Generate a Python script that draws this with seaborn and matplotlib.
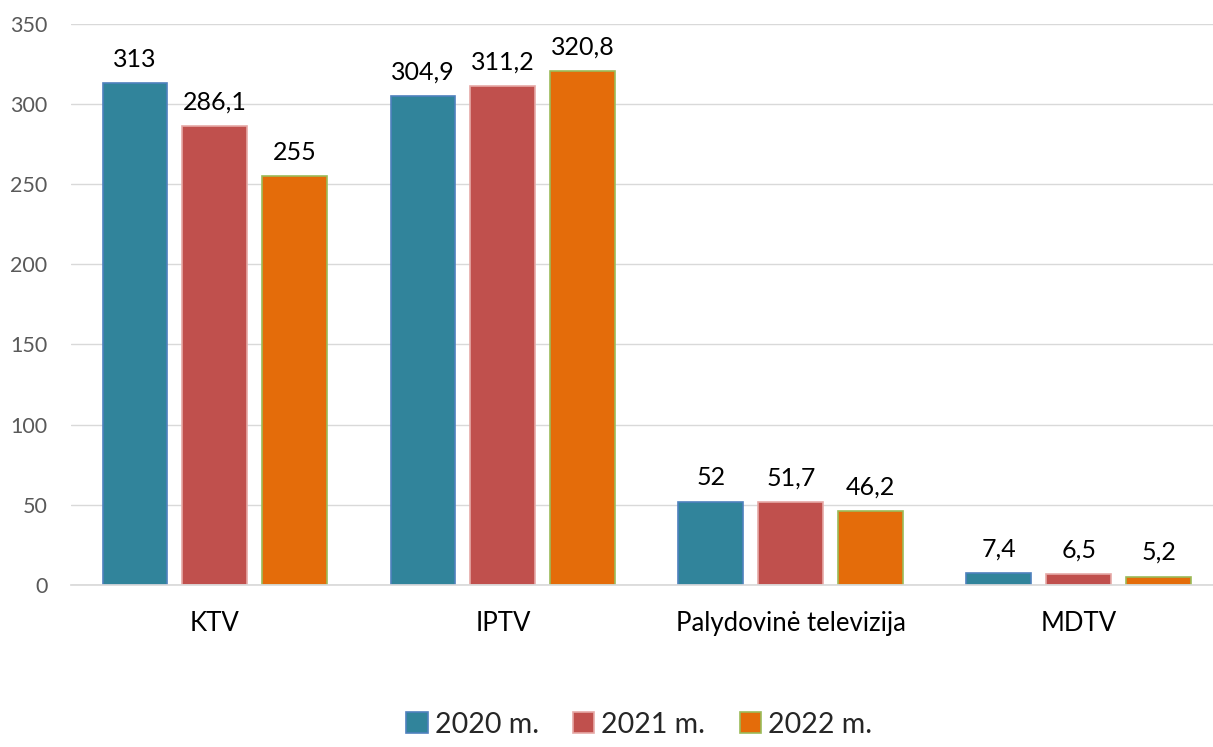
import matplotlib
matplotlib.use("Agg")
import matplotlib.pyplot as plt
from matplotlib.ticker import MultipleLocator
from matplotlib.patches import Patch
import seaborn as sns
import pandas as pd

categories = ["KTV", "IPTV", "Palydovinė televizija", "MDTV"]
years = ["2020 m.", "2021 m.", "2022 m."]
values_2020 = [313, 304.9, 52, 7.4]
values_2021 = [286.1, 311.2, 51.7, 6.5]
values_2022 = [255, 320.8, 46.2, 5.2]

df = pd.DataFrame(
    {
        "Kategorija": categories * 3,
        "Reikšmė": values_2020 + values_2021 + values_2022,
        "Metai": [years[0]] * 4 + [years[1]] * 4 + [years[2]] * 4,
    }
)

sns.set_theme(style="white")
plt.rcParams["font.family"] = ["Lato", "DejaVu Sans"]

fill_colors = {"2020 m.": "#31849B", "2021 m.": "#C0504D", "2022 m.": "#E46C0A"}
edge_colors = {"2020 m.": "#4F81BD", "2021 m.": "#E6A9A7", "2022 m.": "#9BBB59"}

fig = plt.figure(figsize=(12.13, 7.47), dpi=100)
ax = fig.add_axes([0.0585, 0.217, 0.9497, 0.751])

sns.barplot(
    data=df,
    x="Kategorija",
    y="Reikšmė",
    hue="Metai",
    palette=fill_colors,
    saturation=1,
    width=0.833,
    gap=0.1875,
    ax=ax,
    legend=False,
)

for container, year in zip(ax.containers, years):
    for bar in container:
        bar.set_edgecolor(edge_colors[year])
        bar.set_linewidth(1.2)
    labels = [f"{v:g}".replace(".", ",") for v in container.datavalues]
    ax.bar_label(container, labels=labels, padding=9, fontsize=18, color="#000000")

ax.set_ylim(0, 350)
ax.set_xlim(-0.5, 3.5)
ax.yaxis.set_major_locator(MultipleLocator(50))
ax.grid(axis="y", color="#D9D9D9", linewidth=1)
ax.set_axisbelow(True)
for s in ["top", "right", "left"]:
    ax.spines[s].set_visible(False)
ax.spines["bottom"].set_color("#D9D9D9")
ax.set_xlabel("")
ax.set_ylabel("")
ax.tick_params(axis="y", length=0, labelsize=15.5, labelcolor="#595959", pad=17)
ax.tick_params(axis="x", length=0, labelsize=18.5, labelcolor="#000000", pad=19)

handles = [
    Patch(facecolor=fill_colors[y], edgecolor=edge_colors[y], linewidth=1.2, label=y)
    for y in years
]
fig.legend(
    handles=handles,
    loc="lower center",
    bbox_to_anchor=(0.527, -0.022),
    ncol=3,
    frameon=False,
    fontsize=20.5,
    handlelength=0.75,
    handleheight=0.75,
    handletextpad=0.25,
    columnspacing=1.2,
)

fig.savefig("out.png", dpi=100)
